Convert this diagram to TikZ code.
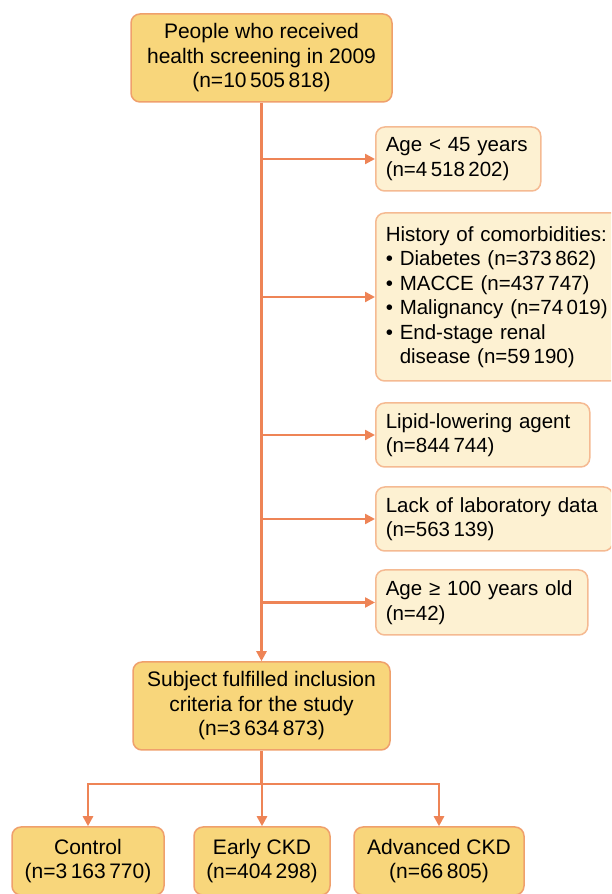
\documentclass[tikz,border=0pt]{standalone}
\usepackage{fontspec}
\setmainfont{Liberation Sans}
\usetikzlibrary{positioning, arrows.meta, calc}
\definecolor{mainfill}{HTML}{F8D67B}
\definecolor{maindraw}{HTML}{EFA06C}
\definecolor{exfill}{HTML}{FDF1D2}
\definecolor{exdraw}{HTML}{F5BA92}
\definecolor{arr}{HTML}{EE8456}

\tikzset{
    main/.style={draw=maindraw, fill=mainfill, line width=1.5pt, rounded corners=9pt,
        align=center, font=\fontsize{21}{24.5}\selectfont},
    excl/.style={draw=exdraw, fill=exfill, line width=1.5pt, rounded corners=9pt,
        align=left, anchor=west, inner xsep=10pt, font=\fontsize{20.5}{24.5}\selectfont},
    flow/.style={draw=arr, line width=2.4pt, -{Triangle[length=10pt,width=10pt]}}
}

\begin{document}
\begin{tikzpicture}[x=1pt, y=1pt]
        \useasboundingbox (0,0) rectangle (611,894);
        \clip (0,0) rectangle (611,894);

        % main column
        \node[main, minimum width=261pt, minimum height=88pt] (scr) at (261.5,836)
            {People who received\\health screening in 2009\\(n=10\,505\,818)};
        \node[main, minimum width=257pt, minimum height=88pt] (inc) at (261.5,188)
            {Subject fulfilled inclusion\\criteria for the study\\(n=3\,634\,873)};

        % exclusions
        \node[excl, text width=145pt, minimum height=64pt] (age) at (375,735)
            {Age < 45 years\\(n=4\,518\,202)};
        \node[excl, text width=240pt, minimum height=168pt] (com) at (375,597)
            {History of comorbidities:\\
             \textbullet\ Diabetes (n=373\,862)\\
             \textbullet\ MACCE (n=437\,747)\\
             \textbullet\ Malignancy (n=74\,019)\\
             \textbullet\ End-stage renal\\
             \phantom{\textbullet\ }disease (n=59\,190)};
        \node[excl, text width=194pt, minimum height=64pt] (lip) at (375,459)
            {Lipid-lowering agent\\(n=844\,744)};
        \node[excl, text width=217pt, minimum height=64pt] (lab) at (375,375)
            {Lack of laboratory data\\(n=563\,139)};
        \node[excl, text width=192pt, minimum height=65pt] (old) at (375,291.5)
            {\mbox{Age ≥ 100 years old}\\(n=42)};

        % groups
        \node[main, minimum width=152pt, minimum height=68pt] (ctl) at (88,33)
            {Control\\(n=3\,163\,770)};
        \node[main, minimum width=136pt, minimum height=68pt] (early) at (262,33)
            {Early CKD\\(n=404\,298)};
        \node[main, minimum width=170pt, minimum height=68pt] (adv) at (439,33)
            {Advanced CKD\\(n=66\,805)};

        \draw[flow] (scr) -- (inc);
        \foreach \n in {age, com, lip, lab, old}
            \draw[flow] (scr.south |- \n.west) -- (\n.west);

        \coordinate (split) at ($(inc.south)+(0,-33)$);
        \draw[draw=arr, line width=2.4pt] (inc.south) -- (split);
        \foreach \n in {ctl, early, adv}
            \draw[flow] (split) -| (\n.north);
    \end{tikzpicture}
\end{document}
